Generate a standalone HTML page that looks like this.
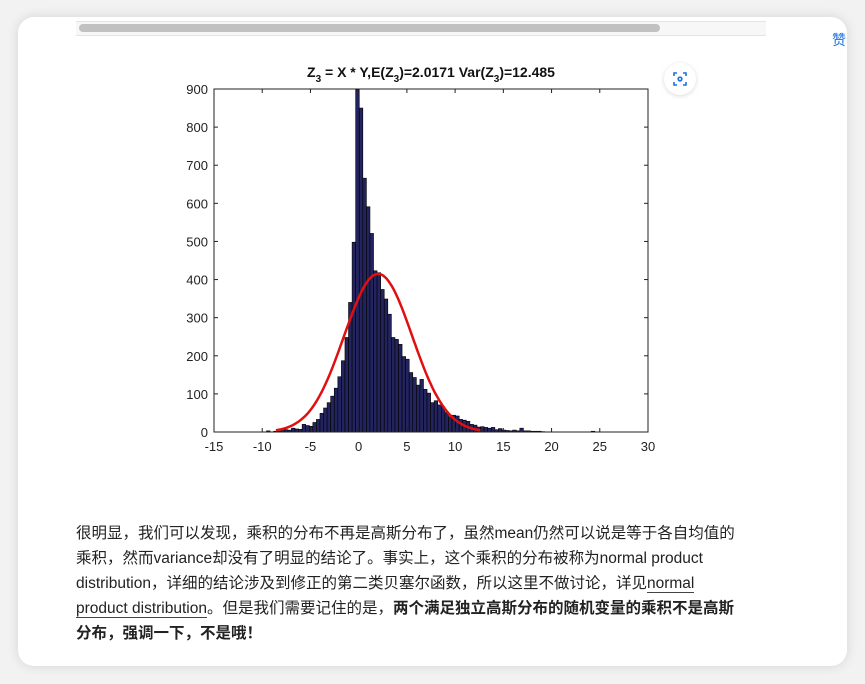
<!DOCTYPE html>
<html><head><meta charset="utf-8"><style>
body{margin:0;width:865px;height:684px;background:#f2f2f2;overflow:hidden;font-family:"Liberation Sans","Noto Sans CJK SC",sans-serif}
#card{position:absolute;left:18px;top:17px;width:829px;height:649px;background:#fff;border-radius:16px;box-shadow:0 0 12px rgba(0,0,0,0.12)}
#track{position:absolute;left:76px;top:21px;width:690px;height:13px;background:#f7f7f7;border-top:1px solid #e4e4e4;border-bottom:1px solid #e4e4e4}
#thumb{position:absolute;left:79px;top:24px;width:581px;height:8px;background:#c1c1c1;border-radius:4px}
#zan{position:absolute;left:832px;top:30px;color:#1a6fe0;font-size:14px}
#scan{position:absolute;left:664px;top:63px;width:32px;height:32px;border-radius:16px;background:#fff;box-shadow:0 1px 5px rgba(0,0,0,0.15)}
#txt{position:absolute;left:76px;top:521px;width:700px;font-size:15.5px;line-height:25px;color:#222;white-space:nowrap}
#txt a{color:#222;text-decoration:none;border-bottom:1px solid #444}
#chartsvg{position:absolute;left:0;top:0}
</style></head><body>
<div id="card"></div>
<div id="track"></div>
<div id="thumb"></div>
<div id="zan">赞</div>
<div id="scan"><svg width="32" height="32"><g fill="none" stroke="#1a6fe0" stroke-width="1.6"><path d="M10 13v-3h3M19 10h3v3M22 19v3h-3M13 22h-3v-3"/><circle cx="16" cy="16" r="1.8"/></g></svg></div>
<svg id="chartsvg" width="865" height="480" font-family="Liberation Sans, sans-serif">
<text x="431" y="77" text-anchor="middle" font-size="14" font-weight="bold" fill="#111">Z<tspan dy="5" font-size="10">3</tspan><tspan dy="-5"> = X * Y,E(Z</tspan><tspan dy="5" font-size="10">3</tspan><tspan dy="-5">)=2.0171 Var(Z</tspan><tspan dy="5" font-size="10">3</tspan><tspan dy="-5">)=12.485</tspan></text>
</svg>
<div id="txt">很明显，我们可以发现，乘积的分布不再是高斯分布了，虽然mean仍然可以说是等于各自均值的<br>乘积，然而variance却没有了明显的结论了。事实上，这个乘积的分布被称为normal product<br>distribution，详细的结论涉及到修正的第二类贝塞尔函数，所以这里不做讨论，详见<a>normal<br>product distribution</a>。但是我们需要记住的是，<b>两个满足独立高斯分布的随机变量的乘积不是高斯<br>分布，强调一下，不是哦！</b></div>
<script>
var binStart=-9.93;
var binWidth=0.37;
var counts=[0,3,0,2,2,4,6,5,10,8,7,20,17,15,25,33,49,63,77,94,115,145,187,248,340,498,898,850,666,591,521,423,418,374,349,309,248,243,230,198,191,156,143,123,138,112,102,77,82,71,66,51,40,44,42,33,31,28,20,18,13,14,12,10,12,6,9,5,4,3,5,3,10,3,3,2,2,2,1,0,0,0,0,0,0,0,0,0,0,0,0,0,2,0,0,0,0,0,0,0];
var xTicks=[-15,-10,-5,0,5,10,15,20,25,30];
var yTicks=[0,100,200,300,400,500,600,700,800,900];
var fitMean=2.0171;
var fitVar=12.485;
var fitArea=3675;
(function(){
var PL=214,PR=648,PT=89,PB=432,X0=-15,X1=30,Y1=900;
function sx(v){return PL+(v-X0)/(X1-X0)*(PR-PL);}
function sy(v){return PB-v/Y1*(PB-PT);}
var root=document.getElementById('chartsvg');var NS='http://www.w3.org/2000/svg';
function mk(t,a){var e=document.createElementNS(NS,t);for(var k in a)e.setAttribute(k,a[k]);root.appendChild(e);return e;}
for(var i=0;i<counts.length;i++){var c=counts[i];if(c<=0)continue;var x0=sx(binStart+i*binWidth),x1=sx(binStart+(i+1)*binWidth);
var r=mk('rect',{x:x0,y:sy(c),width:x1-x0,height:PB-sy(c),fill:'#23235e',stroke:'#000','stroke-width':0.6});

}
var sd=Math.sqrt(fitVar);var pd='';
for(var k=0;k<=120;k++){var x=fitMean-3*sd+k*6*sd/120;var y=fitArea/(sd*Math.sqrt(2*Math.PI))*Math.exp(-Math.pow(x-fitMean,2)/(2*fitVar));pd+=(k?'L':'M')+sx(x).toFixed(1)+' '+sy(y).toFixed(1);}
var cv=mk('path',{d:pd,fill:'none',stroke:'#e01010','stroke-width':2.5});


var ax=mk('rect',{x:PL,y:PT,width:PR-PL,height:PB-PT,fill:'none',stroke:'#222','stroke-width':1});


xTicks.forEach(function(v){mk('line',{x1:sx(v),x2:sx(v),y1:PB,y2:PB-4,stroke:'#222'});mk('line',{x1:sx(v),x2:sx(v),y1:PT,y2:PT+4,stroke:'#222'});
var t=mk('text',{x:sx(v),y:PB+19,'text-anchor':'middle','font-size':13,fill:'#222'});t.textContent=String(v);

});
yTicks.forEach(function(v){mk('line',{x1:PL,x2:PL+4,y1:sy(v),y2:sy(v),stroke:'#222'});mk('line',{x1:PR,x2:PR-4,y1:sy(v),y2:sy(v),stroke:'#222'});
var t=mk('text',{x:PL-6,y:sy(v)+5,'text-anchor':'end','font-size':13,fill:'#222'});t.textContent=String(v);

});
})();
</script>
</body></html>
